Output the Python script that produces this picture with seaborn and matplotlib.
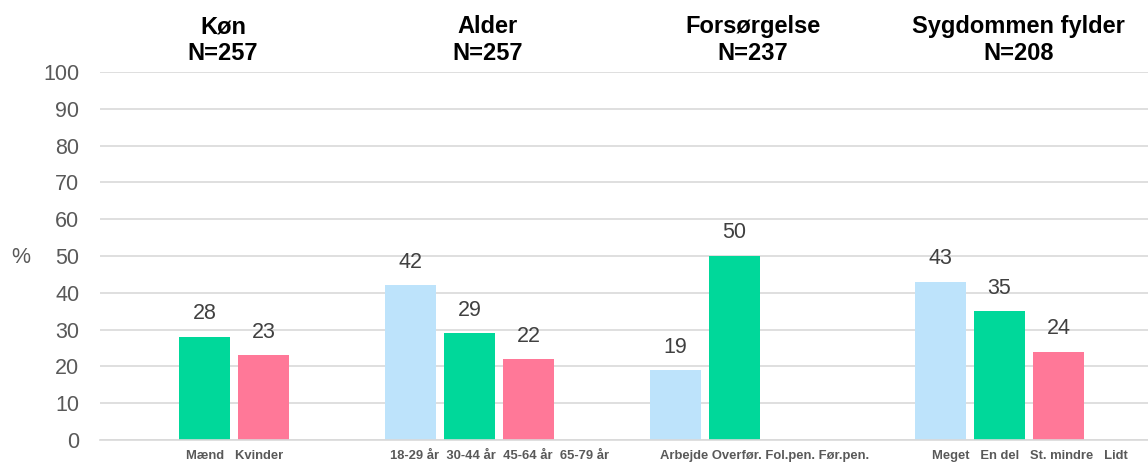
import numpy as np
import pandas as pd
import seaborn as sns
import matplotlib.pyplot as plt
from matplotlib.transforms import ScaledTranslation

sns.set_style('white')
plt.rcParams['font.family'] = ['Liberation Sans', 'DejaVu Sans']

# groups along the x axis, with sample size
groups = ['Køn', 'Alder', 'Forsørgelse', 'Sygdommen fylder']
n_values = [257, 257, 237, 208]

# three bar series (light blue / green / pink), None = no bar
series = ['s1', 's2', 's3']
kon_values = [None, 28, 23]
alder_values = [42, 29, 22]
forsorg_values = [19, 50, None]
sygdom_values = [43, 35, 24]

# sub labels written under each group
kon_labels = ['Mænd', 'Kvinder']
alder_labels = ['18-29 år', '30-44 år', '45-64 år', '65-79 år']
forsorg_labels = ['Arbejde', 'Overfør.', 'Fol.pen.', 'Før.pen.']
sygdom_labels = ['Meget', 'En del', 'St. mindre', 'Lidt']

colors = {'s1': '#BDE3FB', 's2': '#00D89A', 's3': '#FF7898'}

rows = []
for g, vals in zip(groups, [kon_values, alder_values, forsorg_values, sygdom_values]):
    for s, v in zip(series, vals):
        if v is not None:
            rows.append({'group': g, 'series': s, 'value': v})
df = pd.DataFrame(rows)

fig = plt.figure(figsize=(11.48, 4.63), dpi=100)
ax = fig.add_axes([100/1148, 23/463, 1048/1148, 368/463])

sns.barplot(data=df, x='group', y='value', hue='series', order=groups,
            hue_order=series, palette=colors, saturation=1, width=0.667, gap=0.13,
            linewidth=0, legend=False, ax=ax)

for c in ax.containers:
    ax.bar_label(c, fmt='%g', padding=9, fontsize=15.5, color='#404040')

ax.set_ylim(0, 100)
ax.set_yticks(range(0, 101, 10))
ax.set_xlim(-0.394, 3.56)
ax.yaxis.grid(True, color='#D9D9D9', lw=1.2)
ax.set_axisbelow(True)
for side in ['top', 'right', 'left']:
    ax.spines[side].set_visible(False)
ax.spines['bottom'].set_color('#D9D9D9')
ax.spines['bottom'].set_linewidth(1.2)

ax.tick_params(axis='y', length=0, pad=15, labelsize=15.5, labelcolor='#595959')
ax.tick_params(axis='x', length=0, pad=7)

sub = ['   '.join(kon_labels), '  '.join(alder_labels),
       ' '.join(forsorg_labels), '   '.join(sygdom_labels)]
ax.set_xticks(range(len(groups)))
ax.set_xticklabels(sub, fontsize=9.4, fontweight='bold', color='#595959')
shift = ScaledTranslation(0.30, 0, fig.dpi_scale_trans)
for lab in ax.get_xticklabels():
    lab.set_transform(lab.get_transform() + shift)

ax.set_xlabel('')
ax.set_ylabel('%', rotation=0, fontsize=15.5, color='#595959', va='center', ha='center')
ax.yaxis.set_label_coords(-0.076, 0.495)

# group headers
for i, (g, n) in enumerate(zip(groups, n_values)):
    ax.annotate(f'{g}\nN={n}', xy=(i + 0.07, 1.0), xycoords=('data', 'axes fraction'),
                xytext=(0, 23), textcoords='offset points', ha='center', va='center',
                fontsize=17, fontweight='bold', color='#000000', linespacing=1.2)

fig.savefig('out.png', dpi=100)
